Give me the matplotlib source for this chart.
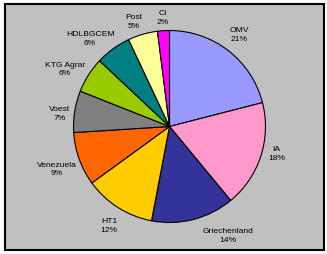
import matplotlib
matplotlib.use("Agg")
import matplotlib.pyplot as plt
import numpy as np
from matplotlib.patches import Rectangle

names = ["OMV", "IA", "Griechenland", "HT1", "Venezuela", "Voest",
         "KTG Agrar", "HDLBGCEM", "Post", "CI"]
shares = [21, 18, 14, 12, 9, 7, 6, 6, 5, 2]
colors = ["#9999FF", "#FF99CC", "#333399", "#FFCC00", "#FF6600", "#808080",
          "#99CC00", "#008080", "#FFFF99", "#FF00FF"]

plt.rcParams['font.family'] = ['Liberation Sans', 'DejaVu Sans']

W, H = 327, 254
fig = plt.figure(figsize=(W / 100, H / 100), dpi=100)
fig.patch.set_facecolor("white")

# gray chart area with black frame, behind the axes
fig.patches.append(Rectangle((5 / W, (H - 250) / H), 319 / W, 246 / H,
                             transform=fig.transFigure, facecolor="#C0C0C0",
                             edgecolor="black", linewidth=1.5, zorder=-5))

ax = fig.add_axes([0, 0, 1, 1])
ax.set_facecolor("none")
ax.set_zorder(1)
r = 96.0          # pie radius in pixels -> 1 data unit
cx, cy = 169.5, 126.5

wedges, _ = ax.pie(shares, colors=colors, startangle=90, counterclock=False,
                   radius=1.0, wedgeprops=dict(edgecolor="black", linewidth=0.8))
ax.set_xlim(-cx / r, (W - cx) / r)
ax.set_ylim(-(H - cy) / r, cy / r)
ax.set_aspect("equal")
ax.axis("off")

# excel-like label placement: box pushed outward from a ring just outside the pie
nudge = {"OMV": (0, 6), "IA": (0, 10), "Griechenland": (26, 2),
         "HT1": (0, -2), "HDLBGCEM": (-4, 0), "Venezuela": (4, -2),
         "Voest": (3, -2), "Post": (-4, 0)}   # px, manual fixes
renderer = fig.canvas.get_renderer()
for w, n, v in zip(wedges, names, shares):
    th = np.deg2rad((w.theta1 + w.theta2) / 2)
    t = ax.text(0, 0, "%s\n%d%%" % (n, v), fontsize=6.1, ha="center", va="center",
                linespacing=1.35, color="black")
    bb = t.get_window_extent(renderer)
    ring = 104 / r
    x = ring * np.cos(th) + bb.width / 2 / r * np.cos(th)
    y = ring * np.sin(th) + bb.height / 2 / r * np.sin(th) - 3 / r
    dx, dy = nudge.get(n, (0, 0))
    t.set_position((x + dx / r, y + dy / r))

plt.savefig("out.png", dpi=100)
